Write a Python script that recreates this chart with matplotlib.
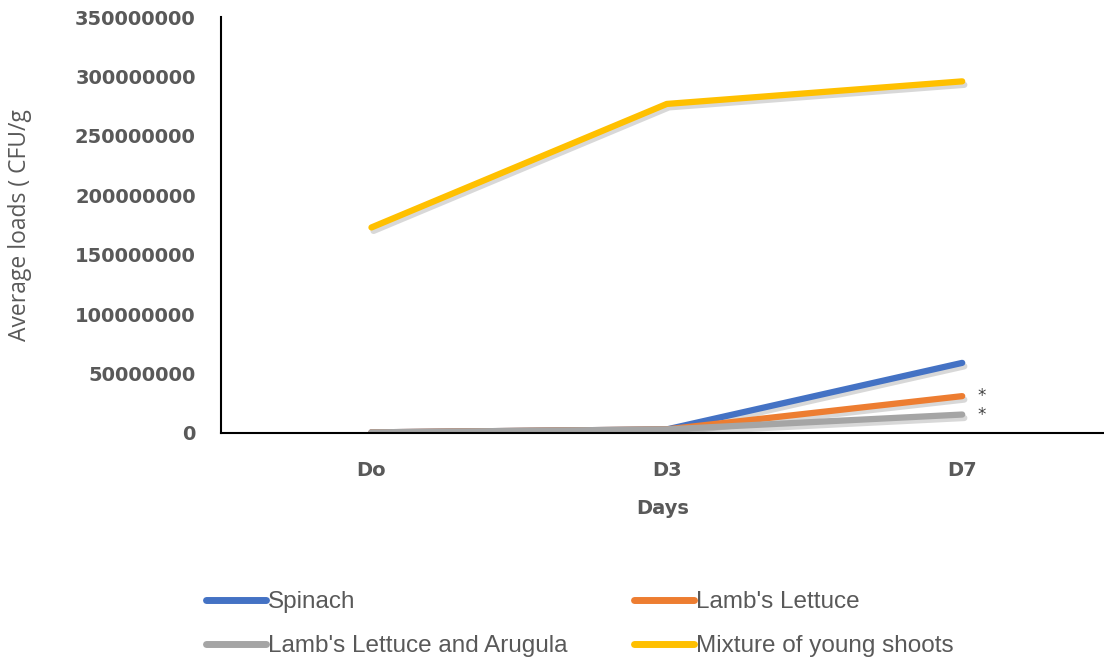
import matplotlib.pyplot as plt
import matplotlib.patheffects as pe

# data
days = ["Do", "D3", "D7"]
spinach = [500000, 3000000, 59000000]
lambs_lettuce = [500000, 3000000, 31000000]
lettuce_arugula = [500000, 3000000, 15500000]
young_shoots = [173000000, 277000000, 296000000]

series = [
    ("Spinach", spinach, "#4472C4"),
    ("Lamb's Lettuce", lambs_lettuce, "#ED7D31"),
    ("Lamb's Lettuce and Arugula", lettuce_arugula, "#A5A5A5"),
    ("Mixture of young shoots", young_shoots, "#FFC000"),
]

fig = plt.figure(figsize=(11.04, 6.62), dpi=100)
ax = fig.add_axes([0.2, 0.346, 0.8, 0.628])

x = list(range(len(days)))
shadow = [pe.SimpleLineShadow(offset=(1.5, -2.5), shadow_color="gray", alpha=0.3), pe.Normal()]
lines = {}
for name, vals, col in series:
    l, = ax.plot(x, vals, color=col, lw=4.5, solid_capstyle="round", label=name,
                 path_effects=shadow)
    lines[name] = l

ax.set_xlim(-0.51, 2.48)
ax.set_ylim(0, 350000000)
ax.set_yticks(range(0, 350000001, 50000000))
ax.set_yticklabels([str(v) for v in range(0, 350000001, 50000000)])
ax.set_xticks(x)
ax.set_xticklabels(days)
for lab in ax.get_xticklabels() + ax.get_yticklabels():
    lab.set_fontweight("bold")
    lab.set_color("#595959")
    lab.set_fontsize(14)
    lab.set_family("DejaVu Sans")
ax.tick_params(axis="both", length=0)
ax.tick_params(axis="y", pad=18)
ax.tick_params(axis="x", pad=20)

ax.spines["top"].set_visible(False)
ax.spines["right"].set_visible(False)
ax.spines["left"].set_color("black")
ax.spines["bottom"].set_color("black")
ax.spines["left"].set_linewidth(1.5)
ax.spines["bottom"].set_linewidth(1.5)

ax.set_xlabel("Days", fontsize=14, fontweight="bold", color="#595959", family="DejaVu Sans", labelpad=14)
fig.text(0.018, 0.66, "Average loads ( CFU/g", rotation=90, ha="center", va="center",
         fontsize=16.5, color="#595959", family="Open Sans")

# significance marks next to the D7 ends
for vals in (lambs_lettuce, lettuce_arugula):
    ax.annotate("*", (2, vals[2]), xytext=(14, 0), textcoords="offset points",
                fontsize=12, color="#404040", ha="center", va="center")

order = ["Spinach", "Lamb's Lettuce and Arugula", "Lamb's Lettuce", "Mixture of young shoots"]
leg = fig.legend([lines[n] for n in order], order, ncol=2, loc="upper left",
                 bbox_to_anchor=(0.167, 0.14), frameon=False,
                 handlelength=2.45, handletextpad=0.08, columnspacing=2.75,
                 labelspacing=0.9, prop={"family": "Liberation Sans", "size": 17.5})
for t in leg.get_texts():
    t.set_color("#595959")
for h in leg.get_lines():
    h.set_linewidth(5)
    h.set_path_effects([])

fig.savefig("out.png", dpi=100)
